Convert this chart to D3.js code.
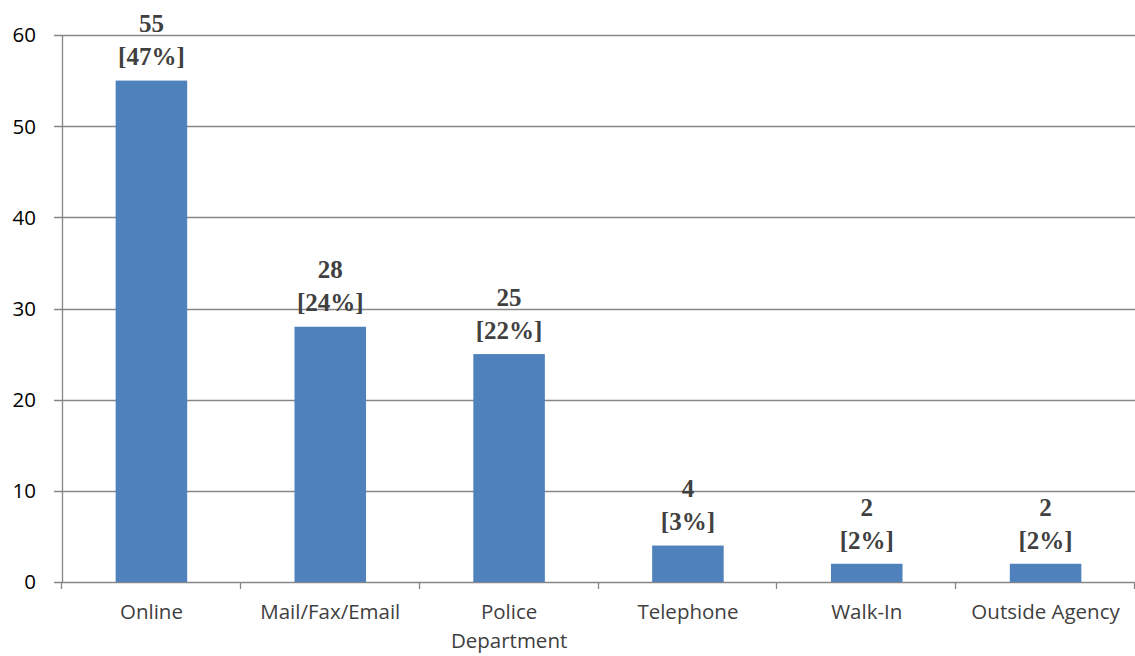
<!DOCTYPE html>
<html><head><meta charset="utf-8">
<script src="https://cdn.jsdelivr.net/npm/d3@7"></script>
<style>body{margin:0;background:#fff}</style>
</head><body>
<script>
const categories = [["Online"], ["Mail/Fax/Email"], ["Police", "Department"], ["Telephone"], ["Walk-In"], ["Outside Agency"]];
const values = [55, 28, 25, 4, 2, 2];
const percents = ["47%", "24%", "22%", "3%", "2%", "2%"];
const yTicks = [0, 10, 20, 30, 40, 50, 60];

const W = 1135, H = 656;
const m = {left: 62, right: 0, top: 35, bottom: 74};
const svg = d3.select("body").append("svg").attr("width", W).attr("height", H);
const x = d3.scaleBand().domain(d3.range(values.length)).range([m.left, W - m.right]);
const y = d3.scaleLinear().domain([0, 60]).range([H - m.bottom, m.top]);
const grid = "#868686";

// gridlines
svg.append("g").selectAll("line").data(yTicks).join("line")
  .attr("x1", m.left - 8).attr("x2", W - m.right)
  .attr("y1", d => Math.round(y(d)) + 0.5).attr("y2", d => Math.round(y(d)) + 0.5)
  .attr("stroke", grid).attr("stroke-width", 1.3);
// y axis line
svg.append("line").attr("x1", m.left + 0.5).attr("x2", m.left + 0.5)
  .attr("y1", y(60)).attr("y2", y(0)).attr("stroke", grid).attr("stroke-width", 1.3);
// y labels
svg.append("g").selectAll("text").data(yTicks).join("text")
  .attr("x", 36).attr("y", d => y(d)).attr("dy", "0.36em").attr("text-anchor", "end")
  .attr("font-family", "Open Sans").attr("font-size", 20.5).attr("fill", "#000").text(d => d);
// x ticks
const xt = d3.range(values.length + 1).map(i => i < values.length ? x(i) : x(values.length - 1) + x.bandwidth());
svg.append("g").selectAll("line").data(xt).join("line")
  .attr("x1", d => Math.round(d) - 0.5).attr("x2", d => Math.round(d) - 0.5)
  .attr("y1", y(0)).attr("y2", y(0) + 7).attr("stroke", grid).attr("stroke-width", 1.3);

// bars
const bw = x.bandwidth() * 0.4;
svg.append("g").selectAll("rect").data(values).join("rect")
  .attr("x", (d, i) => x(i) + (x.bandwidth() - bw) / 2).attr("width", bw)
  .attr("y", d => y(d)).attr("height", d => y(0) - y(d)).attr("fill", "#4F81BD");

// value labels
const lab = svg.append("g").attr("font-family", "'Liberation Serif', 'Times New Roman', serif").attr("font-weight", "bold")
  .attr("font-size", 25).attr("fill", "#404040").attr("text-anchor", "middle");
values.forEach((v, i) => {
  const cx = x(i) + x.bandwidth() / 2;
  lab.append("text").attr("x", cx).attr("y", y(v) - 57).attr("dy", "0.35em").text(v);
  lab.append("text").attr("x", cx).attr("y", y(v) - 24).attr("dy", "0.35em").text("[" + percents[i] + "]");
});

// category labels
const cl = svg.append("g").attr("font-family", "Open Sans").attr("font-size", 20.5)
  .attr("fill", "#404040").attr("text-anchor", "middle");
categories.forEach((lines, i) => {
  const t = cl.append("text").attr("x", x(i) + x.bandwidth() / 2).attr("y", 612).attr("dy", "0.35em");
  lines.forEach((s, j) => t.append("tspan").attr("x", x(i) + x.bandwidth() / 2).attr("dy", j === 0 ? "0.35em" : 29).text(s));
});
</script>
</body></html>
